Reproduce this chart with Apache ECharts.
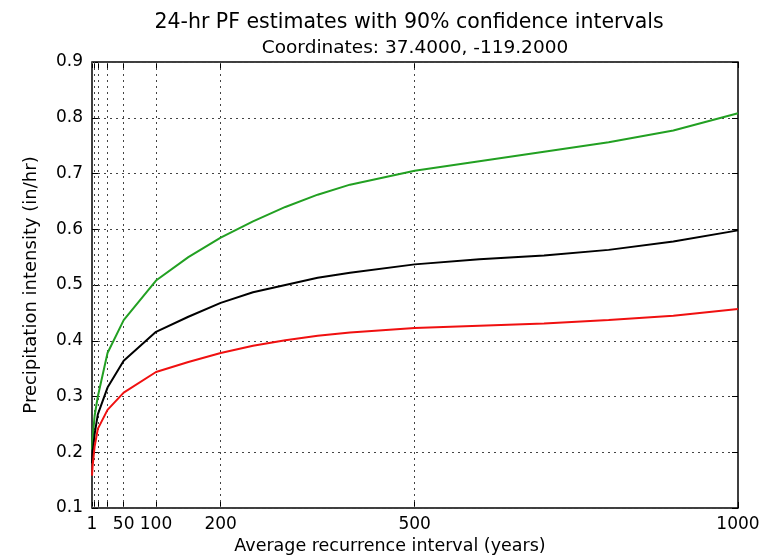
<!DOCTYPE html>
<html>
<head>
<meta charset="utf-8">
<script src="https://cdn.jsdelivr.net/npm/echarts@6/dist/echarts.min.js"></script>
<style>
  html, body { margin: 0; padding: 0; background: #fff; }
  #chart { width: 768px; height: 557px; }
</style>
</head>
<body>
<div id="chart"></div>
<script>
// Average recurrence intervals (years) at which estimates are plotted
const recurrenceYears = [1, 2, 5, 10, 25, 50, 100, 150, 200, 250, 300, 350, 400, 500, 600, 700, 800, 900, 1000];
// Upper bound of the 90% confidence interval (in/hr)
const upperBound = [0.205, 0.225, 0.265, 0.300, 0.378, 0.437, 0.508, 0.550, 0.585, 0.614, 0.640, 0.662, 0.680, 0.705, 0.722, 0.739, 0.756, 0.777, 0.808];
// Point estimate (in/hr)
const pfEstimate = [0.180, 0.200, 0.232, 0.268, 0.316, 0.364, 0.416, 0.443, 0.468, 0.487, 0.500, 0.513, 0.522, 0.537, 0.546, 0.553, 0.563, 0.578, 0.598];
// Lower bound of the 90% confidence interval (in/hr)
const lowerBound = [0.158, 0.176, 0.210, 0.242, 0.276, 0.307, 0.344, 0.362, 0.378, 0.391, 0.401, 0.409, 0.415, 0.423, 0.427, 0.431, 0.437, 0.445, 0.457];

// Tick marks and labels on the recurrence-interval axis
const xTickValues = [1, 2, 5, 10, 25, 50, 100, 200, 500, 1000];
const xLabelValues = [1, 50, 100, 200, 500, 1000];

const FONT = 'DejaVu Sans';
const gridDots = { color: '#444', width: 1, type: [2, 4] };

const pairs = (ys) => recurrenceYears.map((x, i) => [x, ys[i]]);

const chart = echarts.init(document.getElementById('chart'));
chart.setOption({
  animation: false,
  backgroundColor: '#fff',
  title: [
    {
      text: '24-hr PF estimates with 90% confidence intervals',
      left: 404, top: 7, textAlign: 'center',
      textStyle: { fontFamily: FONT, fontSize: 20.5, fontWeight: 'normal', color: '#000' }
    },
    {
      text: 'Coordinates: 37.4000, -119.2000',
      left: 410, top: 34, textAlign: 'center',
      textStyle: { fontFamily: FONT, fontSize: 18.5, fontWeight: 'normal', color: '#000' }
    }
  ],
  grid: {
    left: 92, right: 30, top: 62, bottom: 49,
    show: true, borderColor: '#000', borderWidth: 1.5, backgroundColor: '#fff'
  },
  xAxis: [
    {
      type: 'value', min: 1, max: 1000,
      axisLine: { show: false },
      axisTick: { inside: true, length: 6, customValues: xTickValues, lineStyle: { color: '#000' } },
      axisLabel: {
        customValues: xLabelValues, margin: 8, fontFamily: FONT, fontSize: 17, color: '#000',
        formatter: (v) => String(v)
      },
      splitLine: { show: false }
    },
    {
      type: 'value', min: 1, max: 1000, position: 'top',
      axisLine: { show: false },
      axisTick: { inside: true, length: 6, customValues: xTickValues, lineStyle: { color: '#000' } },
      axisLabel: { show: false },
      splitLine: { show: false }
    }
  ],
  yAxis: [
    {
      type: 'value', min: 0.1, max: 0.9, interval: 0.1,
      name: 'Precipitation intensity (in/hr)',
      nameLocation: 'middle', nameGap: 52,
      nameTextStyle: { fontFamily: FONT, fontSize: 18, color: '#000' },
      axisLine: { show: false },
      axisTick: { inside: true, length: 6, lineStyle: { color: '#000' } },
      axisLabel: {
        margin: 9, fontFamily: FONT, fontSize: 17, color: '#000',
        formatter: (v) => v.toFixed(1)
      },
      splitLine: { show: true, lineStyle: gridDots }
    },
    {
      type: 'value', min: 0.1, max: 0.9, interval: 0.1, position: 'right',
      axisLine: { show: false },
      axisTick: { inside: true, length: 6, lineStyle: { color: '#000' } },
      axisLabel: { show: false },
      splitLine: { show: false }
    }
  ],
  graphic: [
    {
      type: 'text', x: 390, y: 537,
      style: {
        text: 'Average recurrence interval (years)',
        font: '17.5px "DejaVu Sans"', fill: '#000',
        textAlign: 'center', textVerticalAlign: 'top'
      }
    }
  ],
  series: [
    {
      // vertical dotted gridlines at each recurrence interval
      type: 'line', data: [], silent: true,
      markLine: {
        silent: true, symbol: 'none', label: { show: false },
        lineStyle: gridDots,
        data: xTickValues.slice(1, -1).map((v) => ({ xAxis: v }))
      }
    },
    {
      name: 'Upper bound', type: 'line', data: pairs(upperBound),
      showSymbol: false, lineStyle: { color: '#22a022', width: 2 }, z: 5
    },
    {
      name: 'PF estimate', type: 'line', data: pairs(pfEstimate),
      showSymbol: false, lineStyle: { color: '#000', width: 2 }, z: 5
    },
    {
      name: 'Lower bound', type: 'line', data: pairs(lowerBound),
      showSymbol: false, lineStyle: { color: '#f01010', width: 2 }, z: 5
    }
  ]
});
</script>
</body>
</html>
